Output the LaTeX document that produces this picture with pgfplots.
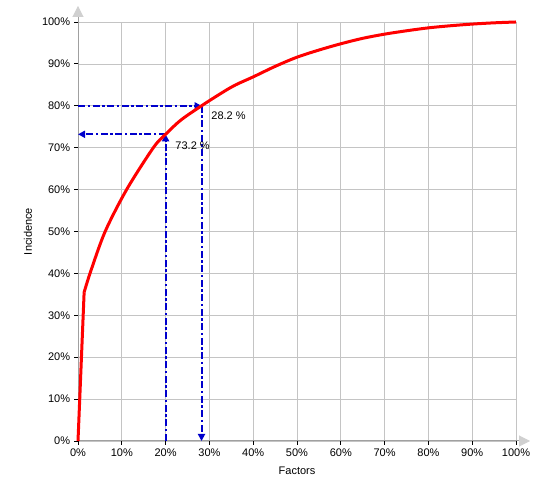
\documentclass[border=0pt]{standalone}
\usepackage{pgfplots}
\pgfplotsset{compat=1.18}
\usetikzlibrary{arrows.meta}
\usepackage{fontspec}
\setmainfont{Liberation Sans}
\definecolor{gridgray}{HTML}{C4C4C4}
\definecolor{axgray}{HTML}{A0A0A0}
\definecolor{arrowgray}{HTML}{D0D0D0}
\definecolor{refblue}{HTML}{0000CC}

\pgfplotstableread{
x y
1.4 35.5
2.9 40.5
6.2 50
11.1 60
17.2 70
20 73.2
23.5 76.6
28.2 80
33 83.2
36 85
40 86.9
45 89.4
50 91.6
55 93.3
60 94.8
65 96.1
70 97.1
75 97.9
80 98.6
85 99.1
90 99.5
95 99.8
100 100
}\curve

\begin{document}
\fontsize{11bp}{13bp}\selectfont
\begin{tikzpicture}[x=1bp,y=1bp]
\begin{axis}[
    scale only axis,
    width=438bp, height=419bp,
    at={(0,0)}, anchor=south west,
    xmin=0, xmax=100, ymin=0, ymax=100,
    axis lines=left,
    axis line style={axgray, line width=1bp},
    x axis line style={-{Triangle[width=11bp,length=11bp,fill=arrowgray,color=arrowgray]}, shorten >=-14bp},
    y axis line style={-{Triangle[width=11bp,length=11bp,fill=arrowgray,color=arrowgray]}, shorten >=-16bp},
    grid=major,
    grid style={gridgray, line width=0.7bp},
    tick align=outside,
    major tick length=4bp,
    tick style={black, line width=0.8bp},
    xtick={0,10,...,100}, ytick={0,10,...,100},
    xticklabels={0\%,10\%,20\%,30\%,40\%,50\%,60\%,70\%,80\%,90\%,100\%},
    yticklabels={0\%,10\%,20\%,30\%,40\%,50\%,60\%,70\%,80\%,90\%,100\%},
    ticklabel style={font=\fontsize{11bp}{13bp}\selectfont},
    xlabel={Factors}, ylabel={Incidence},
    label style={font=\fontsize{11bp}{13bp}\selectfont},
    xlabel style={at={(axis description cs:0.5,-0.072)}, anchor=center},
    ylabel style={at={(axis description cs:-0.114,0.5)}, anchor=center, rotate=0},
    clip=false,
    refline/.style={refblue, line width=2bp, dash pattern=on 7bp off 2.5bp on 2.5bp off 2.5bp, -{Triangle[length=7bp,width=7bp]}},
]
\addplot[refline] coordinates {(0,80) (28.2,80)};
\addplot[refline] coordinates {(28.2,80) (28.2,0)};
\addplot[refline] coordinates {(20,73.2) (0,73.2)};
\addplot[refline] coordinates {(20,0) (20,73.2)};
\addplot[red, line width=3bp, line join=round] coordinates {(0,0) (1.4,35.5)};
\addplot[red, line width=3bp, line join=round, smooth, tension=0.5] table[x=x,y=y] {\curve};
\node[anchor=west, font=\fontsize{11bp}{13bp}\selectfont] at (axis cs:28.2,80) [xshift=6bp, yshift=-10bp] {28.2 \%};
\node[anchor=west, font=\fontsize{11bp}{13bp}\selectfont] at (axis cs:20,73.2) [xshift=6bp, yshift=-11bp] {73.2 \%};
\end{axis}
\path[use as bounding box] (-78,-59) rectangle (472,441);
\end{tikzpicture}
\end{document}
